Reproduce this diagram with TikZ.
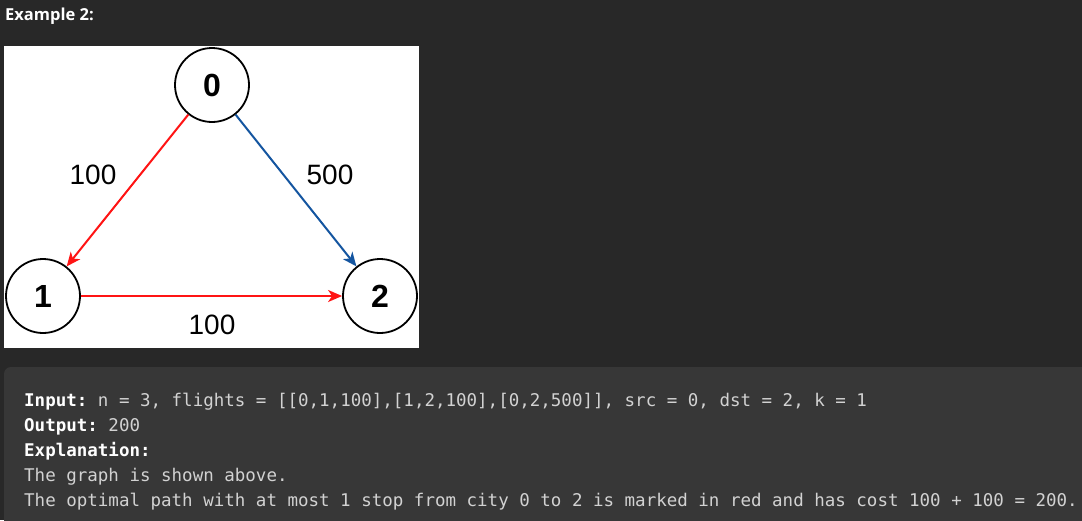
\documentclass[tikz,border=0pt]{standalone}
\usepackage{fontspec}
\setmainfont{Liberation Sans}
\setmonofont{DejaVu Sans Mono}
\newfontfamily\titlefont{Open Sans}
\usepackage{xcolor}
\usetikzlibrary{positioning,arrows.meta}
\definecolor{pagebg}{RGB}{40,40,40}
\definecolor{codebg}{RGB}{55,55,55}
\definecolor{codetext}{RGB}{210,210,210}
\definecolor{edgered}{RGB}{255,20,20}
\definecolor{edgeblue}{RGB}{20,85,160}

\begin{document}
\begin{tikzpicture}[x=1pt, y=-1pt,
    city/.style={circle, draw=black, line width=1.8pt, fill=white, minimum size=74pt, inner sep=0pt, font=\fontsize{32}{32}\selectfont\bfseries},
    flight/.style={line width=2pt, -{Stealth[length=14pt, width=12pt, inset=4pt]}},
    weight/.style={font=\fontsize{28}{28}\selectfont, inner sep=0pt},
    codeline/.style={anchor=base west, inner sep=0pt, text=codetext, font=\fontsize{17.5}{25}\ttfamily}]
% Background
\fill[pagebg] (0,0) rectangle (1082,520);
\useasboundingbox (0,0) rectangle (1082,520);
\node[anchor=base west, inner sep=0pt, text=white, font=\titlefont\fontsize{16.5}{18}\selectfont\bfseries] (title) at (5,20) {Example 2:};

% Graph panel
\fill[white] (4,46) rectangle (419,348);
\node[city] (c0) at (212,85) {0};
\node[city] (c1) at (43,296) {1};
\node[city] (c2) at (380,296) {2};

% Edges
\draw[flight, edgered] (c0) -- (c1);
\draw[flight, edgeblue] (c0) -- (c2);
\draw[flight, edgered] (c1) -- (c2);

% Weights
\node[weight] (w01) at (93,175) {100};
\node[weight] (w02) at (330,175) {500};
\node[weight] (w12) at (212,325) {100};

% Code box
\fill[codebg, rounded corners=7pt] (4,367) rectangle (1100,540);
\node[codeline] (l1) at (24,406.5) {\textbf{\color{white}Input:} n = 3, flights = [[0,1,100],[1,2,100],[0,2,500]], src = 0, dst = 2, k = 1};
\node[codeline] (l2) at (24,431.5) {\textbf{\color{white}Output:} 200};
\node[codeline] (l3) at (24,456.5) {\textbf{\color{white}Explanation:}};
\node[codeline] (l4) at (24,481.5) {The graph is shown above.};
\node[codeline] (l5) at (24,506.5) {The optimal path with at most 1 stop from city 0 to 2 is marked in red and has cost 100 + 100 = 200.};
\end{tikzpicture}
\end{document}
